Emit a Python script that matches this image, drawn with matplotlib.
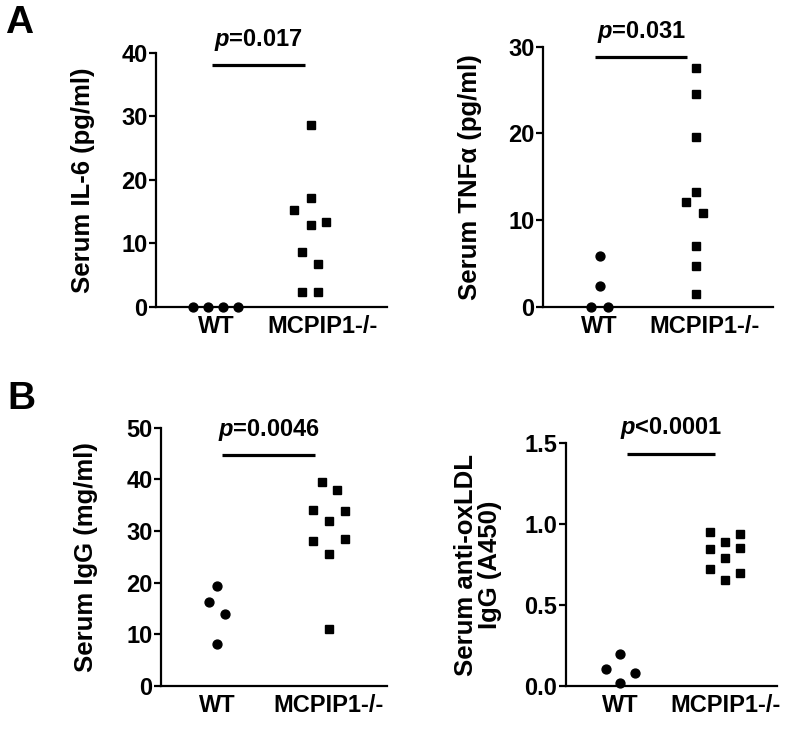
import matplotlib
matplotlib.use("Agg")
import matplotlib.pyplot as plt

plt.rcParams["font.family"] = ["Liberation Sans", "DejaVu Sans"]
plt.rcParams["font.weight"] = "bold"
plt.rcParams["mathtext.fontset"] = "custom"
plt.rcParams["mathtext.it"] = "Liberation Sans:italic:bold"
plt.rcParams["mathtext.rm"] = "Liberation Sans:bold"

groups = ["WT", "MCPIP1-/-"]

# panel A left: IL-6
il6_wt_x = [0.785, 0.925, 1.065, 1.206]
il6_wt_y = [0, 0, 0, 0]
il6_ko_x = [1.888, 1.888, 1.729, 2.028, 1.888, 1.804, 1.953, 1.804, 1.953]
il6_ko_y = [28.6, 17.2, 15.2, 13.4, 12.9, 8.6, 6.8, 2.3, 2.3]

# panel A right: TNFa
tnf_wt_x = [1.003, 1.003, 0.924, 1.083]
tnf_wt_y = [5.8, 2.4, 0, 0]
tnf_ko_x = [1.924, 1.924, 1.924, 1.924, 1.829, 1.99, 1.924, 1.924, 1.924]
tnf_ko_y = [27.5, 24.5, 19.6, 13.2, 12.1, 10.8, 7.0, 4.7, 1.5]

# panel B left: IgG
igg_wt_x = [1.0, 0.931, 1.072, 1.0]
igg_wt_y = [19.4, 16.2, 13.9, 8.1]
igg_ko_x = [1.943, 2.078, 1.868, 2.153, 2.012, 1.868, 2.153, 2.012, 2.012]
igg_ko_y = [39.5, 37.9, 34.1, 33.9, 31.9, 28.1, 28.4, 25.5, 11.0]

# panel B right: anti-oxLDL IgG
ox_wt_x = [1.0, 0.864, 1.143, 1.0]
ox_wt_y = [0.198, 0.103, 0.078, 0.021]
ox_ko_x = [1.857, 2.136, 2.0, 1.857, 2.136, 2.0, 1.857, 2.136, 2.0]
ox_ko_y = [0.952, 0.942, 0.892, 0.845, 0.851, 0.793, 0.723, 0.696, 0.655]

panels = [
    dict(rect=[0.1967, 0.5789, 0.2913, 0.3484], xlim=(0.44, 2.6), ylim=(0, 40),
         yticks=[0, 10, 20, 30, 40], fmt="{:.0f}", ylabel="Serum IL-6 (pg/ml)",
         wt=(il6_wt_x, il6_wt_y), ko=(il6_ko_x, il6_ko_y),
         sig=(0.963, 1.832, 38.1), ptxt="=0.017", pad=19),
    dict(rect=[0.6844, 0.5793, 0.2900, 0.3567], xlim=(0.46, 2.65), ylim=(0, 30),
         yticks=[0, 10, 20, 30], fmt="{:.0f}", ylabel="Serum TNF\u03b1 (pg/ml)",
         wt=(tnf_wt_x, tnf_wt_y), ko=(tnf_ko_x, tnf_ko_y),
         sig=(0.96, 1.838, 28.8), ptxt="=0.031", pad=19),
    dict(rect=[0.2030, 0.0590, 0.2850, 0.3543], xlim=(0.495, 2.53), ylim=(0, 50),
         yticks=[0, 10, 20, 30, 40, 50], fmt="{:.0f}", ylabel="Serum IgG (mg/ml)",
         wt=(igg_wt_x, igg_wt_y), ko=(igg_ko_x, igg_ko_y),
         sig=(1.045, 1.883, 44.7), ptxt="=0.0046", pad=20),
    dict(rect=[0.7134, 0.0590, 0.2661, 0.3330], xlim=(0.48, 2.49), ylim=(0, 1.5),
         yticks=[0, 0.5, 1.0, 1.5], fmt="{:.1f}", ylabel="Serum anti-oxLDL\nIgG (A450)",
         wt=(ox_wt_x, ox_wt_y), ko=(ox_ko_x, ox_ko_y),
         sig=(1.064, 1.905, 1.434), ptxt="<0.0001", pad=16),
]

fig = plt.figure(figsize=(7.93, 7.29), dpi=100)

for p in panels:
    ax = fig.add_axes(p["rect"])
    ax.plot(p["wt"][0], p["wt"][1], "o", color="black", ms=6.4, clip_on=False, zorder=5)
    ax.plot(p["ko"][0], p["ko"][1], "s", color="black", ms=6.3, clip_on=False, zorder=5)
    x0, x1, ys = p["sig"]
    ax.plot([x0, x1], [ys, ys], color="black", lw=2.3, solid_capstyle="butt", clip_on=False)
    ax.annotate("$p$" + p["ptxt"], xy=((x0 + x1) / 2, ys), xytext=(0, 9),
                textcoords="offset points", ha="center", va="bottom",
                fontsize=17, fontweight="bold", annotation_clip=False)
    ax.set_xlim(*p["xlim"])
    ax.set_ylim(*p["ylim"])
    ax.set_yticks(p["yticks"])
    ax.set_yticklabels([p["fmt"].format(v) for v in p["yticks"]])
    ax.set_xticks([1, 2])
    ax.set_xticklabels(groups)
    for s in ["top", "right"]:
        ax.spines[s].set_visible(False)
    for s in ["left", "bottom"]:
        ax.spines[s].set_linewidth(1.6)
    ax.tick_params(axis="y", length=5, width=1.6, labelsize=17, pad=1)
    ax.tick_params(axis="x", length=0, labelsize=17, pad=6)
    ax.set_ylabel(p["ylabel"], fontsize=18.5, fontweight="bold", labelpad=p["pad"],
                  linespacing=1.0)

fig.text(0.006, 0.993, "A", fontsize=28, fontweight="bold", va="top")
fig.text(0.009, 0.478, "B", fontsize=28, fontweight="bold", va="top")

fig.savefig("out.png", dpi=100)
